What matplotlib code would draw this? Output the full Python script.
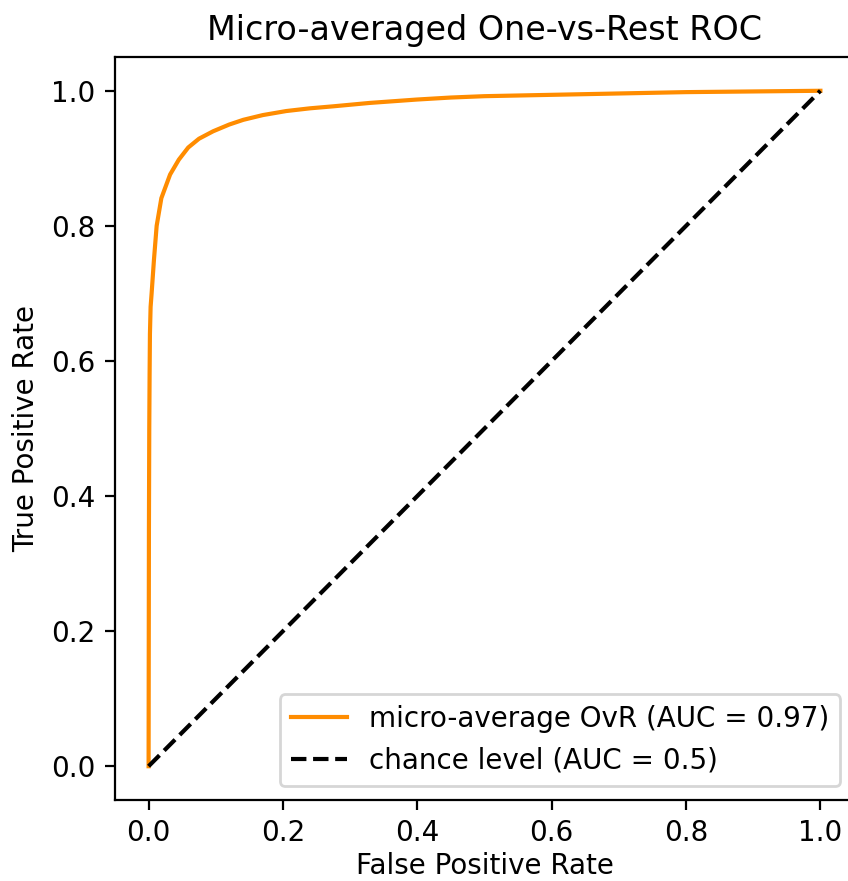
import matplotlib
matplotlib.use("Agg")
import matplotlib.pyplot as plt

# micro-averaged OvR ROC curve
fpr = [0.0, 0.0002, 0.0005, 0.001, 0.0015, 0.002, 0.003, 0.0045, 0.008, 0.012,
       0.019, 0.032, 0.045, 0.059, 0.075, 0.096, 0.12, 0.141, 0.17, 0.205,
       0.24, 0.275, 0.329, 0.399, 0.45, 0.5, 0.6, 0.7, 0.8, 0.9, 1.0]
tpr = [0.0, 0.15, 0.35, 0.5, 0.58, 0.64, 0.68, 0.70, 0.75, 0.80,
       0.841, 0.876, 0.898, 0.916, 0.929, 0.940, 0.950, 0.957, 0.964, 0.970,
       0.974, 0.977, 0.982, 0.987, 0.990, 0.992, 0.994, 0.996, 0.998, 0.999, 1.0]
auc_micro = 0.97

chance_x = [0, 1]
chance_y = [0, 1]

DPI = 200
fig = plt.figure(figsize=(848 / DPI, 881 / DPI), dpi=DPI)
ax = fig.add_axes([115 / 848, 81 / 881, 739 / 848, 743 / 881])

ax.plot(fpr, tpr, color="darkorange", lw=1.5,
        label=f"micro-average OvR (AUC = {auc_micro:.2f})")
ax.plot(chance_x, chance_y, "k--", lw=1.5, label="chance level (AUC = 0.5)")

ax.set_xlim(-0.05, 1.05)
ax.set_ylim(-0.05, 1.05)
ax.set_xticks([0.0, 0.2, 0.4, 0.6, 0.8, 1.0])
ax.set_yticks([0.0, 0.2, 0.4, 0.6, 0.8, 1.0])
ax.set_xlabel("False Positive Rate", labelpad=1.5)
ax.set_ylabel("True Positive Rate")
ax.set_title("Micro-averaged One-vs-Rest ROC")
ax.legend(loc="lower right")

fig.savefig("out.png", dpi=DPI)
